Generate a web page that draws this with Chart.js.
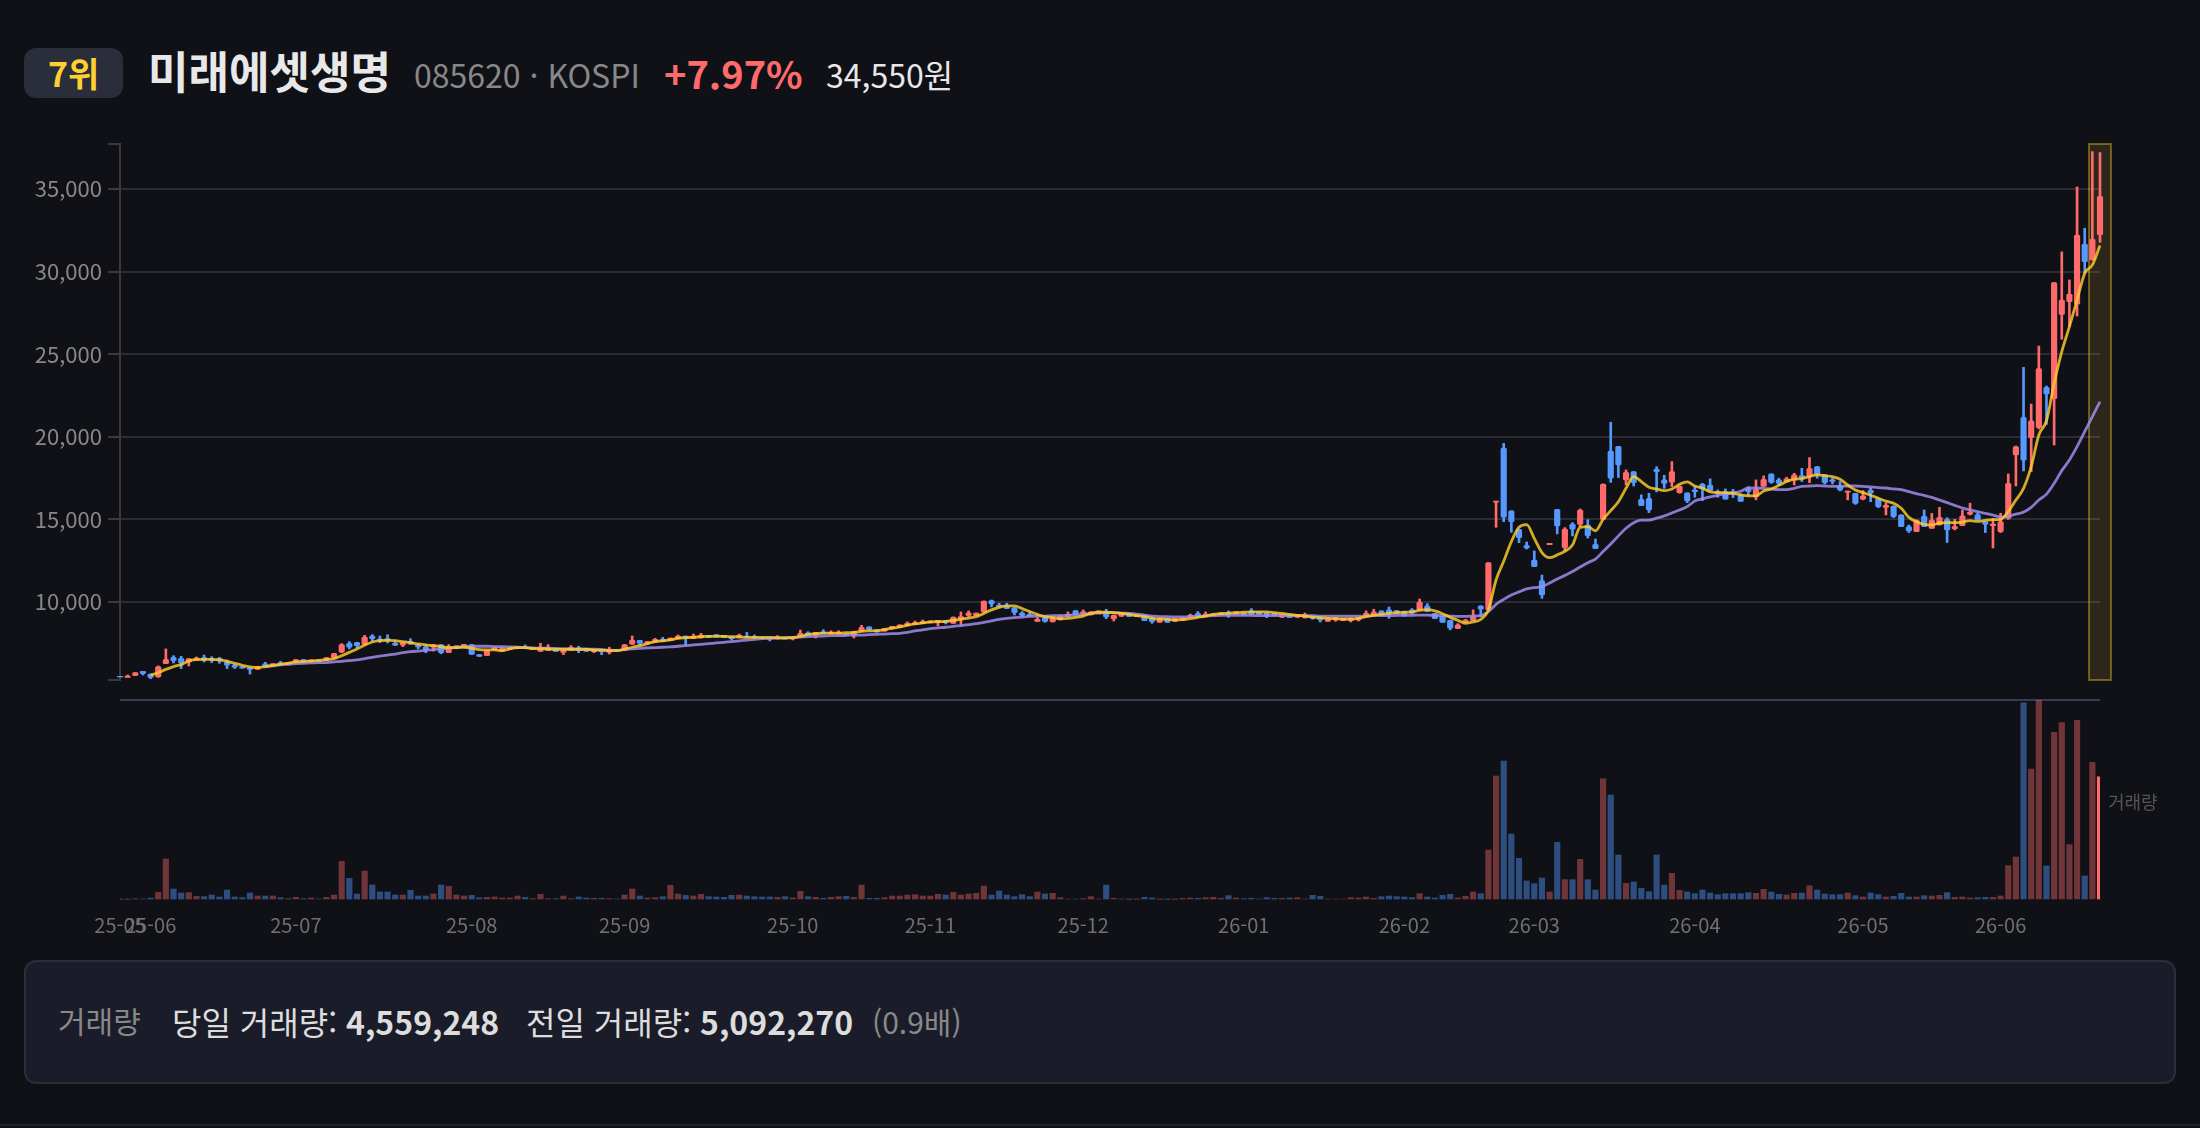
<!DOCTYPE html>
<html lang="ko">
<head>
<meta charset="utf-8">
<title>미래에셋생명</title>
<script src="https://cdn.jsdelivr.net/npm/chart.js@4/dist/chart.umd.min.js"></script>
<style>
  html, body { margin: 0; background: #0f1117; }
  body { position: relative; width: 2200px; height: 1128px; overflow: hidden; font-family: "Noto Sans CJK KR", "Noto Sans", sans-serif; }
  .t { position: absolute; white-space: nowrap; line-height: 1; }
  canvas { position: absolute; left: 0; }
  #badge { position: absolute; left: 24px; top: 48px; width: 99px; height: 50px; border-radius: 12px; background: #2a2d3a; }
  #panel { position: absolute; left: 24px; top: 960px; width: 2148px; height: 120px; border: 2px solid #2a2d3a; border-radius: 12px; background: #1a1d29; }
  #rule { position: absolute; left: 0; top: 1124px; width: 2200px; height: 2px; background: #1f2230; }
</style>
</head>
<body>
<div id="badge"></div>
<div class="t" style="left:48px;top:56px;font-size:34px;font-weight:700;color:#ffd02f">7위</div>
<div class="t" style="left:148px;top:48px;font-size:44px;font-weight:700;color:#e8e8e8">미래에셋생명</div>
<div class="t" style="left:414px;top:58px;font-size:32px;color:#888888">085620 · KOSPI</div>
<div class="t" style="left:664px;top:54px;font-size:38px;font-weight:700;color:#ff6b6b">+7.97%</div>
<div class="t" style="left:826px;top:58px;font-size:32px;color:#e8e8e8">34,550원</div>

<canvas id="priceChart" width="2200" height="560" style="top:130px"></canvas>
<canvas id="volumeChart" width="2200" height="270" style="top:690px"></canvas>
<div class="t" style="left:2108px;top:792px;font-size:18px;color:#555555">거래량</div>

<div id="panel"></div>
<div class="t" style="left:58px;top:1005px;font-size:30px;color:#888888">거래량</div>
<div class="t" style="left:172px;top:1005px;font-size:32px;color:#dddddd">당일 거래량: <b>4,559,248</b></div>
<div class="t" style="left:526px;top:1005px;font-size:32px;color:#dddddd">전일 거래량: <b>5,092,270</b></div>
<div class="t" style="left:872px;top:1006px;font-size:30px;color:#888888">(0.9배)</div>
<div id="rule"></div>

<script>
const opens = [
  5500,5440,5540,5800,5640,5460,6270,6650,6590,6350,
  6490,6630,6590,6590,6370,6170,6090,6020,5920,6250,
  6110,6330,6230,6330,6510,6370,6490,6450,6610,6970,
  7500,7560,7420,7940,7760,7780,7500,7380,7600,7380,
  7280,7260,7420,6930,7170,7300,7420,6810,6750,7100,
  7030,7130,7170,7300,7130,7010,7050,7130,6950,7070,
  7220,7180,6990,7140,6950,7140,7050,7440,7680,7460,
  7560,7740,7660,7780,7940,7800,7820,7980,8020,7980,
  7880,7860,7940,7920,7860,7820,7760,7840,7760,7940,
  8140,7980,8200,8060,8060,8060,7940,8240,8490,8310,
  8240,8390,8450,8570,8630,8690,8730,8750,8870,8710,
  8970,9170,9170,9400,10080,9820,9760,9660,9330,9250,
  8830,9070,8790,8910,9110,9480,9250,9210,9310,9410,
  8970,9130,9310,9110,9210,9010,8770,9010,8830,8890,
  9050,9310,9110,9150,9230,9350,9250,9350,9460,9400,
  9350,9310,9070,9210,9070,9030,9150,9070,8830,8910,
  8870,8870,8910,9150,9210,9460,9520,9480,9410,9520,
  9520,9760,9310,9150,8890,8390,8770,8870,9760,9520,
  16040,19320,15510,14400,13410,12540,11290,13470,15610,13290,
  14720,14700,14660,13490,15000,19140,19420,17390,17890,16220,
  16280,18030,17390,17250,16620,16600,16780,17140,17080,16680,
  16680,16680,16440,16820,16360,17000,17750,17390,17280,17390,
  17650,17590,18190,17690,17390,17020,16640,16580,16220,16780,
  16250,15730,15810,15270,14560,14250,15200,14460,14660,15000,
  14440,14620,15310,15290,14860,14620,14260,15060,18900,21170,
  19950,20550,22990,22300,27410,28180,28020,31670,30700,32230
];
const closes = [
  5460,5520,5720,5660,5440,6090,6530,6450,6290,6570,
  6610,6470,6450,6430,6170,6050,5990,5920,6110,6090,
  6270,6190,6350,6510,6370,6490,6390,6630,6890,7420,
  7260,7360,7880,7760,7660,7660,7380,7540,7440,7280,
  7100,7400,6930,7300,7340,7440,6830,6710,7070,7260,
  7240,7260,7300,7170,7260,7260,7260,7010,7070,7260,
  7060,7010,7140,6990,7140,7050,7420,7700,7500,7600,
  7740,7620,7820,7940,7800,7940,7980,7860,7880,7860,
  7780,7980,7860,7820,7760,7740,7880,7760,7860,8100,
  8000,8160,8080,8160,8180,7960,8220,8470,8310,8180,
  8390,8530,8610,8730,8750,8810,8850,8890,8750,9090,
  9110,9350,9330,10060,9880,9700,9600,9350,9190,9150,
  8950,8830,9010,9150,9250,9230,9410,9410,9460,9090,
  9210,9350,9110,9250,8870,8810,9010,8770,8990,9050,
  9210,9110,9270,9270,9350,9190,9400,9210,9250,9230,
  9150,9170,9250,9050,9250,9250,9010,8910,8990,9070,
  9010,9030,9070,9310,9410,9270,9310,9310,9150,9310,
  10000,9410,8990,8770,8410,8610,8910,9110,9560,12380,
  16100,15130,14860,13900,13270,12140,10420,13550,14600,14420,
  14400,15570,14020,13230,17140,17490,18290,17850,17220,15830,
  15570,17890,17180,17890,17020,16120,16680,16840,16740,16580,
  16220,16540,16090,16680,16820,17430,17240,17180,17450,17690,
  17490,18090,17690,17220,17290,16780,16720,15970,16420,16580,
  15770,15850,15170,14560,14300,14960,14560,14960,15120,14360,
  14560,15210,15430,14970,14700,14720,14860,17180,19400,18590,
  20970,24120,22590,29330,28280,28640,32210,30600,31970,34550
];
const highs = [
  5500,5580,5720,5800,5640,6130,7160,6750,6710,6570,
  6670,6790,6690,6650,6490,6250,6090,6020,6110,6350,
  6270,6410,6350,6510,6510,6490,6490,6630,6890,7480,
  7600,7560,7980,8020,7940,8020,7620,7540,7780,7460,
  7400,7400,7420,7420,7340,7440,7420,6810,7070,7260,
  7240,7260,7300,7400,7260,7500,7420,7130,7070,7360,
  7320,7180,7140,7140,7260,7140,7420,7940,7680,7600,
  7800,7860,7820,8000,7940,8060,8100,7980,8020,7980,
  7880,8060,8160,8000,7860,7820,7960,7840,7860,8300,
  8200,8160,8320,8260,8260,8060,8220,8590,8490,8310,
  8390,8530,8610,8790,8850,8910,8850,8890,8870,9090,
  9400,9460,9330,10060,10120,9920,9920,9660,9420,9360,
  9070,9070,9150,9210,9400,9480,9520,9410,9460,9560,
  9210,9350,9310,9250,9210,9110,9010,9010,8990,9050,
  9270,9420,9400,9270,9350,9460,9400,9350,9600,9400,
  9350,9310,9250,9210,9250,9330,9150,9070,8990,9070,
  9010,9030,9070,9460,9560,9460,9700,9480,9410,9600,
  10180,9900,9310,9150,8890,8690,8950,9520,9760,12380,
  16100,19600,15510,14400,13630,13090,11630,13550,15610,14500,
  14800,15630,14980,13810,17140,20880,19420,17990,17890,16480,
  16580,18190,17670,18500,17020,16600,16980,17180,17450,16780,
  16840,16820,16540,16980,17390,17630,17750,17490,17550,17790,
  18090,18740,18190,17690,17490,17290,16720,16580,16740,16880,
  16250,16010,15810,15270,14660,14960,15570,15360,15730,15100,
  15000,15570,15980,15370,14860,15060,15370,17750,19440,24200,
  21980,25490,23070,29330,31190,29490,35120,32620,37260,37200
];
const lows = [
  5460,5440,5540,5580,5360,5440,6270,6310,5970,6130,
  6490,6370,6330,6290,5970,5970,5990,5640,5920,6050,
  6110,6190,6230,6330,6370,6370,6390,6450,6610,6930,
  7160,7240,7420,7640,7540,7520,7360,7300,7440,7160,
  6930,7030,6870,6930,7170,7300,6830,6710,6750,7100,
  7030,7130,7170,7170,7130,7010,7050,7010,6810,7070,
  6930,7010,6930,6810,6850,7050,7050,7440,7400,7460,
  7560,7620,7660,7780,7400,7800,7820,7860,7880,7860,
  7700,7860,7860,7820,7760,7640,7760,7760,7700,7940,
  8000,7820,8080,8060,8060,7960,7820,8240,8310,8180,
  8240,8390,8450,8570,8630,8690,8730,8550,8670,8710,
  8590,9090,9170,9400,9700,9700,9600,9210,9110,9150,
  8830,8770,8790,8910,9110,9230,9250,9210,9310,8990,
  8850,9130,9110,9110,8870,8710,8770,8770,8830,8890,
  9050,9110,9110,9150,9230,9070,9250,9210,9250,9230,
  9050,9170,9070,9050,9070,9030,8950,8790,8830,8830,
  8870,8790,8850,9150,9210,9270,9010,9310,9150,9310,
  9520,9410,8990,8770,8310,8390,8770,8870,9110,9520,
  14520,14860,14220,13590,13210,12140,10220,13470,14120,13110,
  14000,14560,13870,13230,15000,17240,17530,17080,17020,15830,
  15410,16660,16880,16980,16580,16010,16340,16140,16740,16340,
  16220,16320,16090,16420,16180,17000,17180,17060,17280,17080,
  17290,17220,17490,17140,17140,16720,16180,15910,16180,16070,
  15710,15270,15110,14560,14200,14250,14560,14460,14660,13600,
  14360,14620,15260,14970,14200,13270,14200,15000,17020,17930,
  17890,20470,20750,19500,25900,26670,27310,29890,30700,31770
];
const ma5 = [
  null,null,null,null,5580,5720,5920,6090,6210,6430,
  6510,6530,6530,6490,6410,6290,6170,6070,6030,6090,
  6170,6230,6290,6370,6390,6430,6470,6510,6570,6750,
  6950,7160,7380,7580,7660,7680,7660,7600,7540,7460,
  7400,7360,7300,7240,7240,7260,7200,7120,7100,7100,
  7050,7160,7240,7240,7180,7180,7160,7140,7140,7140,
  7140,7140,7090,7090,7050,7050,7140,7260,7360,7480,
  7600,7640,7700,7800,7840,7860,7900,7920,7920,7920,
  7900,7880,7860,7860,7860,7860,7840,7820,7840,7920,
  8020,8080,8120,8120,8120,8140,8160,8220,8250,8270,
  8330,8410,8490,8590,8670,8730,8790,8810,8830,8890,
  8950,9030,9110,9310,9520,9680,9760,9760,9600,9420,
  9250,9110,9050,8990,9010,9070,9150,9310,9380,9380,
  9360,9310,9250,9170,9110,9030,8970,8950,8910,8930,
  8990,9070,9150,9250,9290,9330,9360,9380,9400,9400,
  9400,9360,9310,9250,9190,9150,9090,9050,9010,8990,
  8970,8970,9010,9110,9190,9250,9310,9360,9380,9400,
  9500,9540,9460,9290,9070,8890,8710,8790,8950,9520,
  11330,12460,13650,14520,14680,13850,12990,12680,12850,13070,
  13450,14520,14560,14300,15000,15530,16070,16880,17590,17290,
  16940,16840,16740,16840,17120,17270,17020,16900,16660,16620,
  16620,16580,16480,16420,16420,16720,16840,17060,17290,17430,
  17470,17590,17690,17650,17590,17430,17080,16780,16620,16460,
  16280,16110,15970,15670,15120,14860,14700,14660,14780,14800,
  14800,14840,14920,14880,14940,14980,15000,15470,16170,16880,
  18190,20110,20970,23230,25150,26670,28280,29890,30400,31570
];
const ma20 = [
  null,null,null,null,null,null,null,null,null,null,
  null,null,null,null,null,null,null,null,null,6070,
  6130,6190,6230,6270,6290,6310,6330,6330,6370,6410,
  6450,6490,6570,6650,6730,6790,6850,6930,6990,7030,
  7070,7120,7160,7200,7260,7300,7320,7320,7320,7300,
  7300,7280,7260,7240,7220,7200,7200,7180,7160,7160,
  7140,7140,7140,7120,7090,7070,7140,7160,7200,7220,
  7240,7260,7280,7320,7360,7400,7440,7480,7520,7560,
  7600,7640,7700,7740,7780,7800,7820,7840,7860,7880,
  7900,7920,7940,7960,7960,7980,8000,8000,8020,8040,
  8060,8080,8100,8160,8250,8310,8390,8430,8470,8530,
  8570,8630,8690,8770,8850,8950,9010,9050,9090,9130,
  9150,9150,9170,9170,9190,9210,9250,9310,9330,9360,
  9360,9330,9310,9270,9210,9150,9110,9110,9090,9090,
  9110,9130,9150,9170,9190,9190,9190,9190,9190,9170,
  9170,9170,9170,9170,9170,9170,9170,9150,9150,9150,
  9150,9150,9150,9150,9170,9170,9170,9190,9190,9190,
  9210,9210,9190,9170,9150,9130,9130,9150,9170,9410,
  9860,10160,10420,10610,10790,10870,10930,11150,11390,11610,
  11840,12120,12380,12600,13050,13510,14000,14460,14800,14960,
  14960,15070,15210,15390,15570,15770,16110,16240,16360,16460,
  16540,16600,16700,16900,16900,16880,16840,16800,16800,16880,
  17000,17020,17040,17020,17000,17000,17020,17020,17000,16960,
  16920,16900,16840,16800,16680,16560,16450,16330,16170,16010,
  15850,15690,15570,15470,15360,15260,15140,15200,15320,15440,
  15730,16170,16530,17180,17950,18590,19400,20310,21220,22120
];
// thousands of shares
const volumes = [
  25,25,49,37,74,284,1517,407,259,271,
  136,123,185,111,370,111,86,259,148,148,
  148,86,49,99,49,74,37,99,185,1430,
  801,222,1073,555,296,296,185,185,358,148,
  148,222,555,506,185,148,173,86,99,111,
  74,74,148,99,49,210,49,49,148,49,
  111,74,62,62,49,37,185,407,148,74,
  86,123,543,222,173,148,210,123,111,99,
  173,185,148,123,111,111,99,123,74,321,
  123,99,62,99,123,136,99,555,62,62,
  86,148,148,185,197,148,148,210,185,284,
  185,222,247,518,185,333,185,123,197,123,
  296,222,247,86,37,37,49,123,37,555,
  62,37,25,25,99,74,25,25,25,62,
  74,62,86,99,62,160,74,49,62,37,
  86,62,62,74,86,37,173,136,37,37,
  37,86,74,111,62,123,148,123,111,86,
  234,111,74,173,210,74,136,296,234,1850,
  4587,5142,2441,1541,703,604,814,296,2133,752,
  752,1504,752,370,4488,3884,1665,617,666,432,
  308,1665,555,986,358,296,234,370,259,197,
  234,234,234,271,247,395,296,210,185,247,
  259,530,370,222,197,197,259,160,111,259,
  197,111,136,247,111,111,160,148,173,271,
  99,111,74,86,99,99,148,1270,1591,7299,
  4846,7400,1258,6202,6560,2047,6646,888,5092,4559
];
const monthStarts = [0,4,23,46,66,88,106,126,147,168,185,206,228,246];
const monthLabels = ['25-05','25-06','25-07','25-08','25-09','25-10','25-11','25-12','26-01','26-02','26-03','26-04','26-05','26-06'];
const priceTicks = [10000,15000,20000,25000,30000,35000];
const priceMin = 5278;
const priceMax = 37720;
const volumeMax = 7400;

const RED = '#ff6b6b';
const BLUE = '#5599ff';
const FONT = '"Noto Sans CJK KR", "Noto Sans", sans-serif';

const categories = opens.map((_, i) => i);
const isUp = i => closes[i] >= opens[i];
const candleColors = categories.map(i => isUp(i) ? RED : BLUE);
const volumeColors = categories.map(i => {
  if (i === categories.length - 1) return RED;
  return isUp(i) ? 'rgba(255,107,107,0.4)' : 'rgba(85,153,255,0.45)';
});

// today's candle highlight, sits behind the candles
const highlightPlugin = {
  id: 'highlight',
  beforeDatasetsDraw(chart) {
    const { ctx, chartArea, scales } = chart;
    const x = scales.x.getPixelForValue(categories.length - 1);
    ctx.save();
    ctx.fillStyle = 'rgba(255,208,47,0.12)';
    ctx.strokeStyle = 'rgba(255,208,47,0.38)';
    ctx.lineWidth = 2;
    ctx.fillRect(x - 11, chartArea.top, 22, chartArea.height);
    ctx.strokeRect(x - 11, chartArea.top, 22, chartArea.height);
    ctx.restore();
  }
};

function maLine(data, color, order) {
  return {
    type: 'line', data, order,
    borderColor: color,
    borderWidth: 2.8,
    pointRadius: 0,
    cubicInterpolationMode: 'monotone',
    clip: false
  };
}

new Chart(document.getElementById('priceChart'), {
  type: 'bar',
  plugins: [highlightPlugin],
  data: {
    labels: categories,
    datasets: [
      { data: categories.map(i => [lows[i], highs[i]]), backgroundColor: candleColors, barThickness: 2, grouped: false, order: 4, clip: false },
      { data: categories.map(i => [opens[i], closes[i]]), backgroundColor: candleColors, barThickness: 5.5, borderRadius: 1.5, borderSkipped: false, grouped: false, order: 3, clip: false },
      maLine(ma20, 'rgba(160,140,235,0.85)', 2),
      maLine(ma5, 'rgba(255,205,40,0.82)', 1)
    ]
  },
  options: {
    responsive: false,
    animation: false,
    events: [],
    layout: { padding: { top: 14, bottom: 10, right: 100, left: 0 } },
    plugins: { legend: { display: false }, tooltip: { enabled: false } },
    scales: {
      x: { display: false, offset: false },
      y: {
        min: priceMin,
        max: priceMax,
        afterBuildTicks: s => { s.ticks = [priceMin, ...priceTicks, priceMax].map(value => ({ value })); },
        afterFit: s => { s.width = 120; s.paddingTop = 0; s.paddingBottom = 0; },
        border: { color: '#3a3a3a', width: 2 },
        grid: {
          color: c => priceTicks.includes(c.tick && c.tick.value) ? '#2a2d38' : 'transparent',
          lineWidth: 2,
          tickColor: '#3a3a3a',
          tickLength: 12
        },
        ticks: {
          autoSkip: false,
          padding: 6,
          color: '#888888',
          font: { family: FONT, size: 22 },
          callback: v => priceTicks.includes(v) ? v.toLocaleString('en-US') : ''
        }
      }
    }
  }
});

new Chart(document.getElementById('volumeChart'), {
  type: 'bar',
  data: {
    labels: categories,
    datasets: [{ data: volumes, backgroundColor: volumeColors, barThickness: 5.5 }]
  },
  options: {
    responsive: false,
    animation: false,
    events: [],
    layout: { padding: { top: 10, right: 100, left: 0, bottom: 0 } },
    plugins: { legend: { display: false }, tooltip: { enabled: false } },
    scales: {
      x: {
        offset: false,
        afterBuildTicks: s => { s.ticks = monthStarts.map(value => ({ value })); },
        afterFit: s => { s.height = 60; s.paddingLeft = 0; s.paddingRight = 0; },
        border: { display: false },
        grid: { display: false },
        ticks: {
          autoSkip: false,
          maxRotation: 0,
          padding: 5,
          color: '#707070',
          font: { family: FONT, size: 20 },
          callback: v => monthLabels[monthStarts.indexOf(v)]
        }
      },
      y: {
        min: 0,
        max: volumeMax,
        afterBuildTicks: s => { s.ticks = [{ value: 0 }, { value: volumeMax }]; },
        afterFit: s => { s.width = 120; s.paddingTop = 0; s.paddingBottom = 0; },
        border: { display: false },
        grid: {
          color: c => c.tick && c.tick.value === volumeMax ? '#3a3a55' : 'transparent',
          lineWidth: 2,
          drawTicks: false
        },
        ticks: { display: false }
      }
    }
  }
});
</script>
</body>
</html>
